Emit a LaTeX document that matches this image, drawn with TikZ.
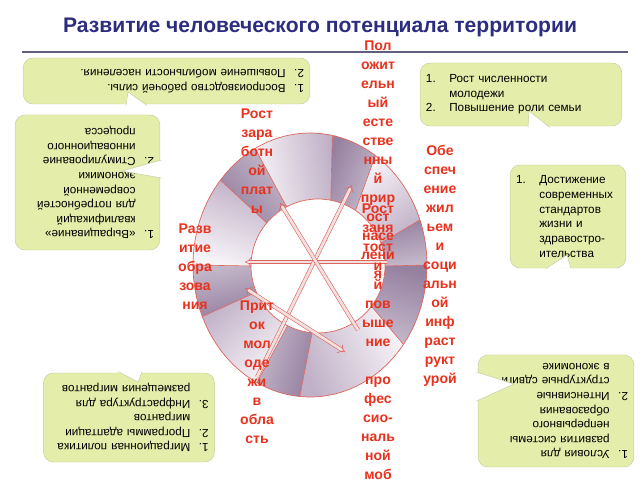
\documentclass[tikz,border=0pt]{standalone}
\usepackage{fontspec}
\setmainfont{Liberation Sans}
\usetikzlibrary{arrows, arrows.meta, positioning}

\definecolor{titleblue}{RGB}{45,45,128}
\definecolor{rulegray}{RGB}{95,95,125}
\definecolor{lblred}{RGB}{232,50,30}
\definecolor{boxfill}{RGB}{228,237,170}
\definecolor{boxline}{RGB}{196,206,160}
\definecolor{ringlight}{RGB}{222,210,226}
\definecolor{ringdark}{RGB}{150,128,160}
\definecolor{ringline}{RGB}{222,100,92}
\definecolor{arrowfill}{RGB}{242,224,224}

\newlength{\numw}
\setlength{\numw}{0.7cm}
\newcommand{\nitem}[2]{\noindent\hangindent=\numw\hangafter=1\makebox[\numw][l]{#1}#2\par}
\newcommand{\notch}[3]{\fill[white] #1 -- #2 -- #3 -- cycle; \draw[boxline] #1 -- #2 -- #3;}

\tikzset{
  lbl/.style={text=lblred, font=\bfseries\fontsize{12}{16.2}\selectfont, align=center, anchor=north, inner sep=0pt},
  callout/.style={fill=boxfill, draw=boxline, rounded corners=0.3cm, inner xsep=5pt, inner ysep=3pt, align=left, font=\fontsize{10}{12.5}\selectfont},
  flip/.style={rotate=180, execute at begin node={\setlength{\numw}{0.55cm}}},
  dksec/.style={top color=ringdark, bottom color=ringdark!55!white},
  ltsec/.style={top color=white!75!ringlight, bottom color=ringlight!60!ringdark},
  dblarrow/.style={draw=ringline, double=arrowfill, double distance=2.4pt, line width=0.5pt}
}

\begin{document}
\begin{tikzpicture}[x=0.03cm, y=-0.03cm]
        \useasboundingbox (0,0) rectangle (640,480);

        % title
        \node[text=titleblue, font=\bfseries\fontsize{18}{20}\selectfont] (title) at (320,27) {Развитие человеческого потенциала территории};
        \draw[rulegray, line width=1pt] (22,52) -- (628,52);

        % ring
        \foreach \a/\b/\c in {0/20/dk, 20/56/lt, 56/79/dk, 79/118/lt, 118/140/dk, 140/180/lt, 180/203/dk, 203/243/lt, 243/265/dk, 265/323/lt, 323/360/dk}{
                \pgfmathsetmacro{\m}{(\a+\b)/2}
                \shade[\c sec, shading angle=\m] plot[domain=\a:\b, samples=25] ({310+117*cos(\x)},{265-132*sin(\x)})
                        -- plot[domain=\b:\a, samples=25] ({318+67*cos(\x)},{266-67*sin(\x)}) -- cycle;
        }
        \foreach \a in {0,20,56,79,118,140,180,203,243,265,323}
                \draw[ringline, line width=0.5pt] ({318+67*cos(\a)},{266-67*sin(\a)}) -- ({310+117*cos(\a)},{265-132*sin(\a)});
        \draw[ringline, line width=0.6pt] plot[domain=0:360, samples=120] ({310+117*cos(\x)},{265-132*sin(\x)}) -- cycle;
        \draw[ringline, line width=0.6pt, fill=white] plot[domain=0:360, samples=90] ({318+67*cos(\x)},{266-67*sin(\x)}) -- cycle;

        % arrows
        \coordinate (ea) at (387,262);
        \coordinate (wa) at (245,262);
        \coordinate (sb) at (257,377);
        \coordinate (nb) at (352,185);
        \coordinate (sc) at (358,330);
        \coordinate (nc) at (280,203);
        \coordinate (wd) at (245,288);
        \coordinate (ed) at (345,352);
        \draw[dblarrow, -Implies] (ea) -- (wa);
        \draw[dblarrow, -Implies] (sb) -- (nb);
        \draw[dblarrow, -Implies] (sc) -- (nc);
        \draw[dblarrow, Implies-Implies] (wd) -- (ed);

        % labels
        \node[lbl] (natgrowth) at (378,40.4) {Пол\\ожит\\ельн\\ый\\есте\\стве\\нны\\й\\прир\\ост\\насе\\лени\\я};
        \node[lbl] (employ) at (378,203.4) {Рост\\заня\\тост\\и\\й\\пов\\ыше\\ние\\ \\про\\фес\\сио-\\наль\\ной\\моб};
        \node[lbl] (housing) at (440,145.4) {Обе\\спеч\\ение\\жил\\ьем\\и\\соци\\альн\\ой\\инф\\раст\\рукт\\урой};
        \node[lbl] (wages) at (257,108.4) {Рост\\зара\\ботн\\ой\\плат\\ы};
        \node[lbl] (educ) at (195,223.4) {Разв\\итие\\обра\\зова\\ния};
        \node[lbl] (youth) at (257,300.4) {Прит\\ок\\мол\\оде\\жи\\в\\обла\\сть};

        % callouts
        \node[callout, flip, text width=8.25cm, minimum height=1.38cm] (labour) at (166.5,81)
                {\nitem{1.}{Воспроизводство рабочей силы.}\nitem{2.}{Повышение мобильности населения.}};
        \node[callout, flip, text width=3.99cm, minimum height=4.05cm] (skills) at (87.5,182.5)
                {\nitem{1.}{«Выращивание» квалификаций\newline для потребностей\newline современной\newline экономики}\nitem{2.}{Стимулирование\newline инновационного\newline процесса}};
        \node[callout, text width=5.7cm, minimum height=1.89cm] (young) at (521,94.5)
                {\nitem{1.}{Рост численности\newline молодежи}\nitem{2.}{Повышение роли семьи}};
        \node[callout, text width=3.12cm, minimum height=3.09cm] (life) at (568,216.5)
                {\nitem{1.}{Достижение\newline современных\newline стандартов\newline жизни и\newline здравостро-\newline ительства}};
        \node[callout, flip, text width=4.32cm, minimum height=3.36cm] (school) at (556,411)
                {\nitem{1.}{Условия для\newline развития системы\newline непрерывного\newline образования}\nitem{2.}{Интенсивные\newline структурные сдвиги\newline в экономике}};
        \node[callout, flip, text width=4.78cm, minimum height=2.67cm] (migr) at (129,417.5)
                {\nitem{1.}{Миграционная политика}\nitem{2.}{Программы адаптации\newline мигрантов}\nitem{3.}{Инфраструктура для\newline размещения мигрантов}};

        \notch{(126,105.5)}{(128,92)}{(147,105.5)}
        \notch{(161.5,160)}{(122,171)}{(161.5,178)}
        \notch{(528,127.5)}{(529,111)}{(550,127.5)}
        \notch{(546,268.5)}{(567,255)}{(571,268.5)}
        \notch{(476.5,372)}{(514,384)}{(476.5,401)}
        \notch{(118,371.5)}{(138,382)}{(142,371.5)}
\end{tikzpicture}
\end{document}
